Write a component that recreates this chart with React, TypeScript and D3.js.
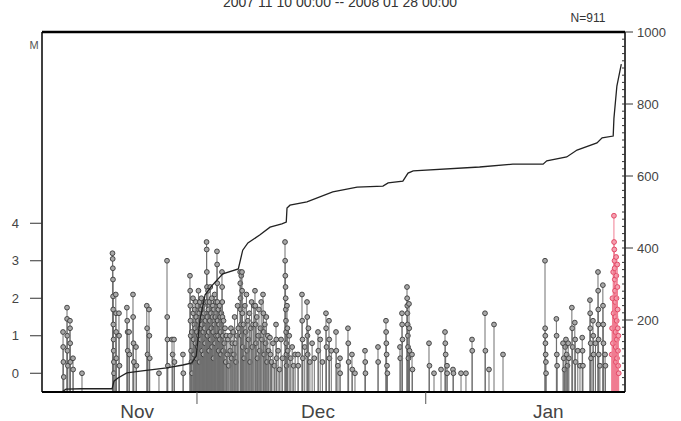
import React from "react";
import * as d3 from "d3";

// ---- data (days since 2007-11-10 00:00, magnitude) ----
const titleText = "2007 11 10 00:00 -- 2008 01 28 00:00";
const totalLabel = "N=911";
const magTicks = [0, 1, 2, 3, 4];
const countTicks = [200, 400, 600, 800, 1000];
const monthLabels = [
  { name: "Nov", day: 12.9 },
  { name: "Dec", day: 37.4 },
  { name: "Jan", day: 68.6 },
];
const monthBoundaries = [21, 52];

const eventsNov: [number, number][] = [
  [2.85,1.1],[2.87,0.7],[2.9,0.3],[2.95,-0.1],[3.39,1.75],[3.4,1.45],[3.42,1.0],[3.45,0.6],[3.5,0.2],
  [3.79,1.4],[3.8,1.2],[3.82,0.8],[3.85,0.3],[4.2,0.4],[4.22,0.1],[5.42,0.0],
  [9.55,3.2],[9.58,3.05],[9.6,2.8],[9.62,2.5],[9.63,2.05],[9.65,1.7],[9.67,1.3],[9.7,0.9],[9.72,0.6],
  [9.74,0.3],[9.76,0.0],[10.0,2.1],[10.03,1.6],[10.05,1.1],[10.08,0.4],[10.43,1.6],[10.45,1.0],[10.5,0.2],
  [11.5,1.75],[11.55,1.4],[11.6,1.1],[11.62,0.6],[11.8,1.1],[11.85,0.5],[12.33,2.1],[12.35,1.5],[12.4,0.8],
  [12.45,0.3],[12.74,0.7],[12.8,0.2],[14.2,1.8],[14.25,1.2],[14.3,0.5],[14.5,1.7],[14.55,1.0],[14.6,0.4],
  [15.85,0.0],[16.94,3.0],[16.97,1.5],[17.0,0.9],[17.05,0.2],[17.62,0.9],[17.7,0.5],[17.89,0.9],[17.95,0.3],
  [19.1,0.5],[19.15,0.0],
  [20.05,2.6],[20.08,2.2],[20.1,1.8],[20.12,1.4],[20.15,1.0],[20.2,0.6],[20.25,0.3],[20.3,1.1],[20.35,0.0],
  [20.46,2.0],[20.5,1.6],[20.55,0.9],[20.6,0.5],[20.65,1.3],[20.7,1.7],[20.75,1.2],[20.8,0.8],[20.85,1.9],
  [20.9,1.5],[20.95,0.4],
];

const eventsDec: [number, number][] = [
  [21.0,1.1],[21.05,1.8],[21.1,0.7],[21.15,1.4],[21.2,2.2],[21.25,1.0],[21.3,1.6],[21.35,0.3],[21.4,1.9],
  [21.45,1.2],[21.5,0.9],[21.55,1.7],[21.6,2.0],[21.65,1.3],[21.7,0.6],[21.75,1.5],[21.8,1.8],[21.85,1.1],
  [21.9,0.5],[21.95,1.6],[22.0,1.9],[22.05,1.2],[22.1,0.8],[22.15,1.4],
  [22.3,3.5],[22.32,3.3],[22.34,2.7],[22.36,2.3],[22.38,1.9],[22.4,1.5],[22.42,1.0],[22.5,2.2],[22.55,1.7],
  [22.6,1.1],[22.65,0.6],[22.7,1.9],[22.75,1.4],[22.8,2.3],[22.85,0.9],[22.9,1.6],[22.95,1.2],[23.0,2.0],
  [23.05,0.7],[23.1,1.5],[23.15,1.8],[23.2,1.1],[23.25,0.4],[23.3,1.7],[23.35,1.3],[23.4,2.1],[23.45,0.8],
  [23.5,1.5],[23.55,1.9],[23.6,1.0],
  [23.71,3.25],[23.73,2.9],[23.75,2.4],[23.77,1.9],[23.8,1.4],[23.85,1.0],[23.9,1.7],[23.95,0.6],[24.0,1.3],
  [24.05,1.8],[24.1,0.9],[24.15,1.5],[24.2,1.1],[24.25,0.5],[24.3,1.6],
  [24.39,2.7],[24.41,2.3],[24.43,1.9],[24.45,1.5],[24.5,1.0],[24.55,0.6],[24.6,1.4],[24.7,0.8],[24.8,1.2],
  [24.9,0.3],[25.0,1.0],[25.1,0.5],[25.2,0.9],[25.3,0.2],[25.47,1.0],[25.5,0.6],[25.6,1.2],[25.7,0.4],
  [25.8,0.8],[25.9,1.1],[26.0,0.5],[26.1,1.5],[26.2,0.8],[26.3,0.3],[26.4,1.0],[26.5,1.8],[26.6,1.2],
  [26.85,2.7],[26.87,2.4],[26.9,2.0],[26.93,1.7],[26.96,1.3],[27.0,2.6],[27.05,1.0],[27.1,2.7],[27.12,2.2],
  [27.15,1.6],[27.2,0.7],[27.3,1.3],[27.4,0.4],[27.5,1.8],[27.6,1.1],[27.7,2.1],[27.8,0.6],[27.9,1.4],
  [28.0,0.9],[28.1,1.6],[28.2,0.3],[28.3,1.2],[28.4,1.9],[28.5,0.7],[28.6,1.3],[28.7,1.8],
  [28.86,2.2],[28.9,1.8],[28.95,1.3],[29.0,0.8],[29.1,1.5],[29.2,0.4],[29.3,1.0],[29.4,1.7],[29.5,0.6],
  [29.6,1.2],[29.7,1.9],[29.8,0.9],
  [29.95,2.1],[30.0,1.6],[30.05,1.1],[30.1,0.5],[30.2,1.3],[30.3,0.8],[30.4,1.5],[30.5,0.3],[30.6,1.0],
  [30.7,0.6],[30.89,0.95],[30.95,0.5],[31.1,0.3],[31.3,0.8],[31.5,0.2],[31.71,1.3],[31.75,0.9],[31.8,0.4],
  [32.0,0.6],[32.2,0.1],[32.4,0.9],[32.6,0.4],
  [32.93,3.5],[32.95,3.0],[32.97,2.6],[33.0,2.3],[33.02,2.0],[33.04,1.7],[33.06,1.4],[33.08,1.1],[33.1,0.8],
  [33.12,0.5],[33.14,0.2],[33.2,1.8],[33.25,1.2],[33.3,0.6],[33.5,1.0],[33.7,0.4],[33.9,0.7],[34.1,0.2],
  [34.3,0.5],[34.69,0.5],[34.72,0.2],[35.23,2.1],[35.26,1.4],[35.3,0.9],[35.35,0.4],[35.6,0.7],
  [35.91,1.9],[35.94,1.5],[35.97,1.0],[36.0,0.5],[36.1,1.2],[36.3,0.3],[36.6,0.8],[36.9,0.4],
  [37.4,1.1],[37.45,0.6],[37.7,0.9],[38.0,0.3],[38.48,1.6],[38.5,1.2],[38.55,0.7],[38.89,1.4],[38.92,0.9],
  [38.95,0.4],[39.2,0.6],[39.84,1.1],[39.88,0.6],[40.1,0.2],[40.38,0.4],[40.4,0.0],
  [41.46,1.2],[41.5,0.8],[41.55,0.3],[42.0,0.5],[42.05,0.1],[42.41,0.0],[43.77,0.6],[43.8,0.3],[43.83,0.0],
  [45.53,0.7],[45.55,0.3],[46.61,1.4],[46.63,1.1],[46.66,0.8],[46.7,0.5],[46.75,0.2],[46.8,0.0],
  [48.51,0.7],[48.55,0.4],[48.78,1.6],[48.8,1.3],[48.85,0.9],[49.46,2.3],[49.48,2.0],[49.5,1.8],[49.52,1.6],
  [49.55,1.3],[49.58,1.0],[49.6,0.7],[49.65,0.4],[49.73,1.85],[49.76,1.2],[49.8,0.6],[50.14,0.5],[50.2,0.1],
];

const eventsJan: [number, number][] = [
  [52.44,0.8],[52.5,0.2],[53.12,0.0],[54.07,0.1],[54.61,1.1],[54.65,0.8],[54.7,0.5],[54.88,0.2],[54.9,0.0],
  [55.69,0.1],[55.75,0.0],[56.78,0.0],[57.45,0.0],[58.27,0.9],[58.3,0.6],[60.03,1.6],[60.08,0.6],[60.57,0.1],
  [61.25,1.3],[62.47,0.5],
  [68.16,3.0],[68.18,1.2],[68.2,1.0],[68.22,0.8],[68.25,0.5],[68.28,0.3],[68.3,0.0],
  [69.7,1.45],[69.73,1.0],[69.76,0.5],[69.8,0.2],
  [70.6,0.8],[70.7,0.4],[70.8,0.1],[70.9,0.7],[71.0,0.9],[71.1,0.5],[71.2,0.2],[71.3,0.8],[71.4,0.4],
  [71.8,1.75],[71.85,1.2],[71.9,0.7],[72.2,1.35],[72.25,0.9],[72.3,0.3],[72.6,0.6],[72.9,0.2],
  [73.2,0.95],[73.25,0.6],[73.3,0.2],
  [74.25,1.95],[74.28,1.6],[74.3,1.2],[74.35,0.8],[74.4,0.4],[74.66,1.4],[74.7,1.0],[74.75,0.5],[75.0,0.8],
  [75.34,2.7],[75.36,2.2],[75.38,1.7],[75.4,1.3],[75.42,0.9],[75.45,0.5],[75.6,0.2],
  [76.0,2.35],[76.02,1.8],[76.05,1.3],[76.08,0.8],[76.3,0.5],[76.35,0.2],
];

const eventsLatest: [number, number][] = [
  [77.2,0.5],[77.25,1.2],[77.3,2.0],[77.35,0.8],[77.4,2.7],[77.45,1.6],[77.5,4.2],[77.52,3.5],[77.55,3.3],
  [77.58,3.0],[77.6,2.8],[77.62,2.5],[77.65,2.2],[77.68,1.9],[77.7,1.5],[77.72,1.1],[77.75,0.7],[77.78,0.3],
  [77.8,3.1],[77.82,2.6],[77.85,2.0],[77.88,1.4],[77.9,0.9],[77.92,0.4],[77.95,2.9],[77.97,2.3],[78.0,1.7],
  [78.02,1.2],[78.05,0.6],[78.08,0.2],[78.1,1.0],[78.15,0.0],
];

// cumulative number of events
const cumDays = [2.7, 3.25, 5.4, 9.5, 9.75, 10.3, 11.5, 13.3, 16.9, 19.1, 20.3, 20.9, 21.4, 22.1, 23.0, 24.5,
  26.6, 27.2, 27.9, 29.5, 30.9, 32.5, 33.1, 33.2, 33.6, 35.9, 39.4, 42.7, 46.2, 46.9, 48.9, 49.6, 50.3,
  59.3, 63.8, 67.9, 68.4, 71.1, 72.5, 75.2, 75.9, 77.4, 77.5, 77.9, 78.5];
const cumCounts = [0, 8, 9, 9, 30, 39, 53, 58, 67, 75, 81, 100, 200, 270, 295, 328,
  342, 394, 414, 436, 458, 467, 472, 511, 519, 528, 556, 569, 572, 581, 586, 608, 614,
  625, 633, 633, 642, 653, 672, 692, 706, 711, 760, 850, 911];

const START = Date.UTC(2007, 10, 10);
const END = Date.UTC(2008, 0, 28);
const toDate = (d: number) => new Date(START + d * 86400000);

export default function App() {
  const W = 681, H = 421;
  const left = 42, right = 625, top = 32, bottom = 392;
  const x = d3.scaleUtc().domain([new Date(START), new Date(END)]).range([left, right]);
  const yM = d3.scaleLinear().domain([-0.5, 9.1]).range([bottom, top]);
  const yN = d3.scaleLinear().domain([0, 1000]).range([bottom, top]);
  const font = "'Liberation Sans', Arial, Helvetica, sans-serif";

  const grayEvents = [...eventsNov, ...eventsDec, ...eventsJan];
  const line = d3.line<number>()
    .x((_, i) => x(toDate(cumDays[i])))
    .y((c) => yN(c))
    .curve(d3.curveLinear);
  const minorCounts = d3.range(20, 1000, 20);

  const stem = (e: [number, number], i: number, red: boolean) => {
    const px = x(toDate(e[0]));
    const py = yM(e[1]);
    return (
      <g key={(red ? "r" : "g") + i}>
        <line x1={px} x2={px} y1={bottom} y2={py} stroke={red ? "#f07d92" : "#707070"} strokeWidth={1} />
        <circle cx={px} cy={py} r={2.4} fill={red ? "#f4a0b0" : "#a8a8a8"} stroke={red ? "#e0405e" : "#3a3a3a"} strokeWidth={0.9} />
      </g>
    );
  };

  return (
    <svg width={W} height={H} style={{ position: "absolute", left: 0, top: 0, background: "#fff" }}>
      <text x={340} y={7} textAnchor="middle" fontFamily={font} fontSize={14} fill="#333">{titleText}</text>
      <text x={588} y={22} textAnchor="middle" fontFamily={font} fontSize={12} fill="#333">{totalLabel}</text>
      <text x={34} y={49} textAnchor="middle" fontFamily={font} fontSize={11} fill="#555">M</text>

      {grayEvents.map((e, i) => stem(e, i, false))}
      {eventsLatest.map((e, i) => stem(e, i, true))}

      <path d={line(cumCounts) || ""} fill="none" stroke="#222" strokeWidth={1.3} />

      {/* frame */}
      <line x1={left} x2={right} y1={top} y2={top} stroke="#000" strokeWidth={2.5} />
      <line x1={left} x2={right} y1={bottom} y2={bottom} stroke="#000" strokeWidth={2} />
      <line x1={left} x2={left} y1={top} y2={bottom} stroke="#000" strokeWidth={1.5} />
      <line x1={right} x2={right} y1={top} y2={bottom} stroke="#000" strokeWidth={1.5} />

      {/* left magnitude axis */}
      {magTicks.map((m) => (
        <g key={"m" + m}>
          <line x1={30} x2={left} y1={yM(m)} y2={yM(m)} stroke="#333" strokeWidth={1} />
          <text x={19} y={yM(m)} dy="0.35em" textAnchor="end" fontFamily={font} fontSize={13} fill="#444">{m}</text>
        </g>
      ))}

      {/* right count axis */}
      {minorCounts.map((c) => (
        <line key={"n" + c} x1={right - 3} x2={right} y1={yN(c)} y2={yN(c)} stroke="#333" strokeWidth={1} />
      ))}
      {countTicks.map((c) => (
        <g key={"c" + c}>
          <line x1={right} x2={right + 8} y1={yN(c)} y2={yN(c)} stroke="#333" strokeWidth={1} />
          <text x={right + 12} y={yN(c)} dy="0.35em" textAnchor="start" fontFamily={font} fontSize={13} fill="#444">{c}</text>
        </g>
      ))}

      {/* bottom time axis */}
      {monthBoundaries.map((d) => (
        <line key={"b" + d} x1={x(toDate(d))} x2={x(toDate(d))} y1={bottom} y2={bottom + 12} stroke="#555" strokeWidth={1} />
      ))}
      {monthLabels.map((m) => (
        <text key={m.name} x={x(toDate(m.day))} y={418} textAnchor="middle" fontFamily={font} fontSize={19} fill="#444">{m.name}</text>
      ))}
    </svg>
  );
}
